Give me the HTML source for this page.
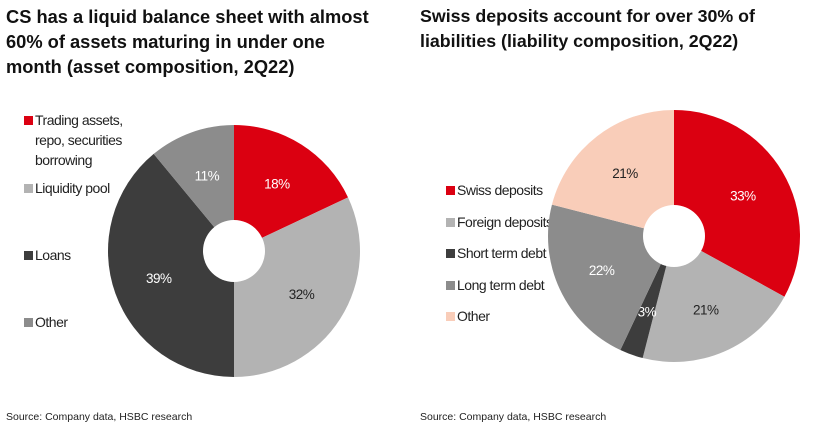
<!DOCTYPE html>
<html><head><meta charset="utf-8"><style>
body{margin:0;width:828px;height:435px;background:#fff;font-family:"Liberation Sans",Arial,sans-serif;overflow:hidden;position:relative}
.t{position:absolute;font-weight:bold;font-size:18.3px;line-height:25px;color:#111}
.src{position:absolute;top:411px;font-size:10.5px;color:#222}
.lg{position:absolute;font-size:14px;color:#222;letter-spacing:-0.5px;line-height:20px}
.sw{display:inline-block;width:9px;height:9px;margin-right:2px}
svg{position:absolute;left:0;top:0}
</style></head><body>
<div class="t" style="left:6px;top:4px">CS has a liquid balance sheet with almost<br>60% of assets maturing in under one<br>month (asset composition, 2Q22)</div>
<div class="t" style="left:420px;top:4px;font-size:17.8px">Swiss deposits account for over 30% of<br>liabilities (liability composition, 2Q22)</div>
<div class="lg" style="left:24px;top:110px"><span class="sw" style="background:#db0011"></span>Trading assets,<br><span style="padding-left:11px">repo, securities</span><br><span style="padding-left:11px">borrowing</span></div>
<div class="lg" style="left:24px;top:178px"><span class="sw" style="background:#b3b3b3"></span>Liquidity pool</div>
<div class="lg" style="left:24px;top:245px"><span class="sw" style="background:#3d3d3d"></span>Loans</div>
<div class="lg" style="left:24px;top:312px"><span class="sw" style="background:#8c8c8c"></span>Other</div>
<div class="lg" style="left:446px;top:180px"><span class="sw" style="background:#db0011"></span>Swiss deposits</div>
<div class="lg" style="left:446px;top:212px"><span class="sw" style="background:#b3b3b3"></span>Foreign deposits</div>
<div class="lg" style="left:446px;top:243px"><span class="sw" style="background:#3d3d3d"></span>Short term debt</div>
<div class="lg" style="left:446px;top:275px"><span class="sw" style="background:#8c8c8c"></span>Long term debt</div>
<div class="lg" style="left:446px;top:306px"><span class="sw" style="background:#f9cdb9"></span>Other</div>
<div class="src" style="left:6px">Source: Company data, HSBC research</div>
<div class="src" style="left:420px">Source: Company data, HSBC research</div>
<svg id="s" width="828" height="435"></svg>
<script>
const leftCategories=["Trading assets, repo, securities borrowing","Liquidity pool","Loans","Other"];
const leftValues=[18,32,39,11];
const leftColors=["#db0011","#b3b3b3","#3d3d3d","#8c8c8c"];
const leftLabelColors=["#fff","#222","#fff","#fff"];
const rightCategories=["Swiss deposits","Foreign deposits","Short term debt","Long term debt","Other"];
const rightValues=[33,21,3,22,21];
const rightColors=["#db0011","#b3b3b3","#3d3d3d","#8c8c8c","#f9cdb9"];
const rightLabelColors=["#fff","#222","#fff","#fff","#222"];
const NS="http://www.w3.org/2000/svg";
const svg=document.getElementById('s');
function donut(vals,cols,lcols,cx,cy,r,ri,lr,prefix){
  const tot=vals.reduce((a,b)=>a+b,0);let a0=0;
  vals.forEach((v,i)=>{
    const a1=a0+v/tot*2*Math.PI;
    const p=a=>[cx+r*Math.sin(a),cy-r*Math.cos(a)];
    const [x0,y0]=p(a0),[x1,y1]=p(a1);
    const path=document.createElementNS(NS,'path');
    path.setAttribute('d',`M${cx},${cy}L${x0},${y0}A${r},${r} 0 ${a1-a0>Math.PI?1:0} 1 ${x1},${y1}Z`);
    path.setAttribute('fill',cols[i]);
    
    
    svg.appendChild(path);
    const am=(a0+a1)/2;
    const t=document.createElementNS(NS,'text');
    t.setAttribute('x',cx+lr*Math.sin(am));t.setAttribute('y',cy-lr*Math.cos(am)+5);
    t.setAttribute('text-anchor','middle');t.setAttribute('font-size','13.5');t.setAttribute('fill',lcols[i]);
    t.setAttribute('font-family','Liberation Sans, sans-serif');
    t.setAttribute('letter-spacing','-0.5');
    t.textContent=v+'%';
    
    
    svg.appendChild(t);
    a0=a1;
  });
  const c=document.createElementNS(NS,'circle');
  c.setAttribute('cx',cx);c.setAttribute('cy',cy);c.setAttribute('r',ri);c.setAttribute('fill','#fff');
  
  
  svg.appendChild(c);
}
donut(leftValues,leftColors,leftLabelColors,234,251,126,31,80,'asset');
donut(rightValues,rightColors,rightLabelColors,674,236,126,31,80,'liability');
</script>
</body></html>
